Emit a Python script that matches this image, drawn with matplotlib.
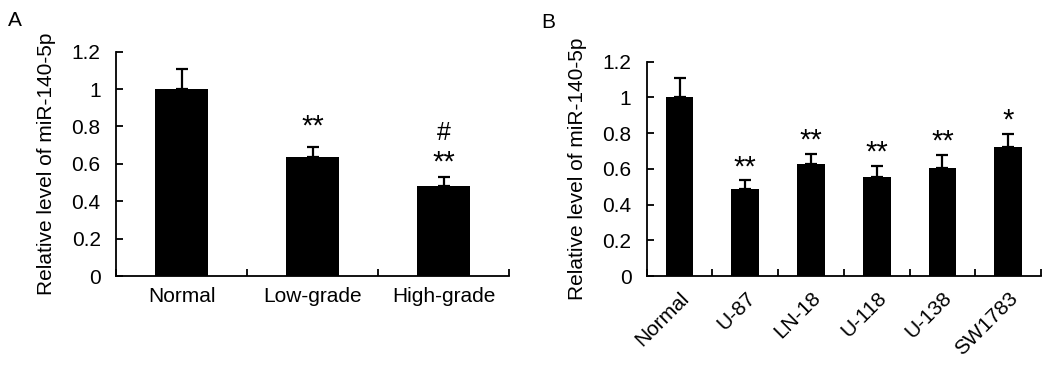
import matplotlib
matplotlib.use("Agg")
import matplotlib.pyplot as plt
import numpy as np

plt.rcParams['font.family'] = ['Liberation Sans', 'DejaVu Sans']

# Panel A data
cats_a = ["Normal", "Low-grade", "High-grade"]
vals_a = [1.0, 0.635, 0.48]
errs_a = [0.11, 0.055, 0.05]
sig_a = ["", "**", "**"]
sig2_a = ["", "", "#"]

# Panel B data
cats_b = ["Normal", "U-87", "LN-18", "U-118", "U-138", "SW1783"]
vals_b = [1.0, 0.485, 0.625, 0.555, 0.605, 0.725]
errs_b = [0.11, 0.05, 0.06, 0.06, 0.07, 0.07]
sig_b = ["", "**", "**", "**", "**", "*"]

yticks_full = [0, 0.2, 0.4, 0.6, 0.8, 1, 1.2]
ytick_labels = ["0", "0.2", "0.4", "0.6", "0.8", "1", "1.2"]
ylabel = "Relative level of miR-140-5p"

FS = 15

fig = plt.figure(figsize=(10.63, 3.69), dpi=100)
W, H = 1063, 369

def style(ax, n, labels, rot):
    x = np.arange(n)
    ax.set_xlim(-0.5, n - 0.5)
    ax.set_ylim(0, 1.2)
    ax.spines['top'].set_visible(False)
    ax.spines['right'].set_visible(False)
    for s in ['left', 'bottom']:
        ax.spines[s].set_linewidth(1.3)
    ax.set_yticks(yticks_full)
    ax.set_yticklabels(ytick_labels, fontsize=FS)
    ax.tick_params(axis='y', direction='in', length=5, width=1.3, pad=11)
    ax.set_xticks(x)
    if rot:
        ax.set_xticklabels(labels, fontsize=FS, rotation=45, ha='right', rotation_mode='anchor')
        ax.tick_params(axis='x', which='major', length=0, pad=9)
    else:
        ax.set_xticklabels(labels, fontsize=FS)
        ax.tick_params(axis='x', which='major', length=0, pad=8)
    ax.set_xticks(np.arange(n + 1) - 0.5, minor=True)
    ax.tick_params(axis='x', which='minor', direction='in', length=5, width=1.3)
    ax.set_ylabel(ylabel, fontsize=FS, labelpad=11)

# Panel A
axA = fig.add_axes([116 / W, 1 - 276 / H, (509 - 116) / W, (276 - 51.7) / H])
xa = np.arange(len(cats_a))
axA.bar(xa, vals_a, width=0.41, color='black', zorder=2)
axA.errorbar(xa, vals_a, yerr=[np.zeros(len(errs_a)), errs_a], fmt='none',
             ecolor='black', elinewidth=1.6, capsize=4, capthick=1.6, zorder=1)
style(axA, len(cats_a), cats_a, False)
star_off_a = [0.0, 0.11, 0.075]
for i in range(len(cats_a)):
    top = vals_a[i] + errs_a[i]
    if sig_a[i]:
        axA.text(xa[i], top + star_off_a[i], sig_a[i], ha='center', va='center', fontsize=21)
    if sig2_a[i]:
        axA.text(xa[i], top + 0.235, sig2_a[i], ha='center', va='center', fontsize=18)
fig.text(8 / W, 1 - 20 / H, "A", fontsize=FS, ha='left', va='center')

# Panel B
axB = fig.add_axes([646.7 / W, 1 - 276 / H, (1041 - 646.7) / W, (276 - 61.7) / H])
xb = np.arange(len(cats_b))
axB.bar(xb, vals_b, width=0.42, color='black', zorder=2)
axB.errorbar(xb, vals_b, yerr=[np.zeros(len(errs_b)), errs_b], fmt='none',
             ecolor='black', elinewidth=1.6, capsize=4, capthick=1.6, zorder=1)
style(axB, len(cats_b), cats_b, True)
for i in range(len(cats_b)):
    top = vals_b[i] + errs_b[i]
    if sig_b[i]:
        axB.text(xb[i], top + 0.075, sig_b[i], ha='center', va='center', fontsize=21)
fig.text(541 / W, 1 - 22 / H, "B", fontsize=FS, ha='left', va='center')

fig.savefig("out.png", dpi=100)
